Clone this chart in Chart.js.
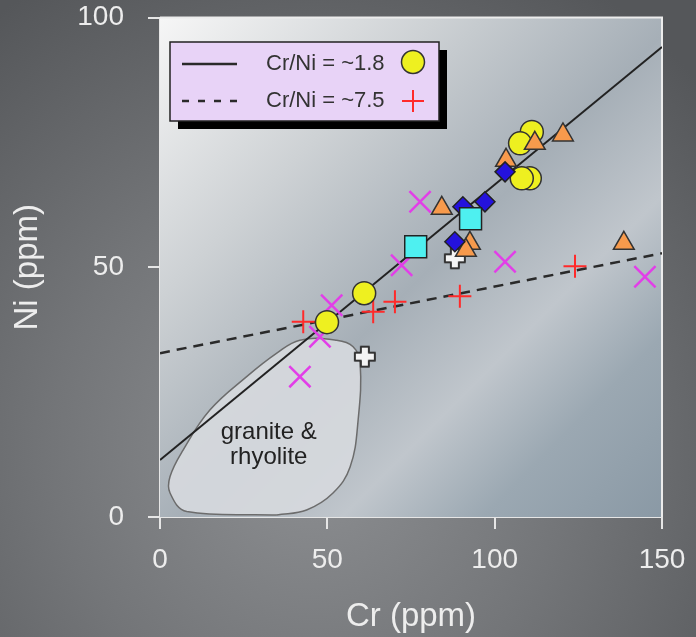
<!DOCTYPE html>
<html>
<head>
<meta charset="utf-8">
<script src="https://cdn.jsdelivr.net/npm/chart.js@4.4.1/dist/chart.umd.min.js"></script>
<style>
  html, body { margin: 0; padding: 0; }
  body {
    width: 696px; height: 637px; overflow: hidden;
    background: radial-gradient(ellipse 75% 85% at 45% 70%, #8e9093 0%, #737578 50%, #55575a 100%);
  }
</style>
</head>
<body>
<canvas id="chart" width="696" height="637"></canvas>
<script>
// Cr / Ni values (ppm)
const circleCr = [49.9, 61.0, 111.1, 107.6, 110.5, 108.1];
const circleNi = [39.0, 44.8, 77.1, 74.8, 67.8, 67.8];

const plusCr = [42.8, 63.7, 70.2, 89.6, 124.0];
const plusNi = [39.1, 41.1, 43.1, 44.2, 50.2];

const xCr = [41.8, 47.8, 51.3, 72.2, 77.7, 103.1, 144.9];
const xNi = [28.1, 36.1, 42.4, 50.4, 63.1, 51.1, 48.1];

const triCr = [84.2, 120.4, 112.0, 103.4, 92.6, 91.4, 138.6];
const triNi = [61.8, 76.5, 74.8, 71.4, 54.8, 53.4, 54.8];

const diaCr = [103.1, 97.1, 90.5, 88.1];
const diaNi = [69.1, 63.1, 62.1, 55.1];

const sqCr = [76.4, 92.8];
const sqNi = [54.1, 59.7];

const crossCr = [88.1, 61.2];
const crossNi = [51.8, 32.1];

// trend lines, Cr/Ni ~1.8 and ~7.5
const lineCr = [0, 150];
const solidNi = [11.4, 94.1];
const dashedNi = [32.8, 52.8];

// granite & rhyolite field outline
const fieldCr = [34.9, 43.8, 51.7, 56.8, 59.2, 59.8, 57.7, 52.8, 41.8, 34.9, 25.9, 14.9, 6.9, 3.0, 3.0, 8.0, 34.9];
const fieldNi = [0.4, 1.4, 4.8, 10.0, 19.4, 30.8, 34.1, 35.4, 35.4, 32.8, 28.1, 21.4, 13.4, 8.1, 4.8, 1.1, 0.4];

const xTicks = [0, 50, 100, 150];
const yTicks = [0, 50, 100];
const legendLabels = ['Cr/Ni = ~1.8', 'Cr/Ni = ~7.5'];

const FONT = '"Liberation Sans", Arial, sans-serif';

function pts(xs, ys) {
    return xs.map((x, i) => ({ x: x, y: ys[i] }));
}

function makeCross() {
    const c = document.createElement('canvas');
    c.width = 26; c.height = 26;
    const g = c.getContext('2d');
    const m = 13, a = 4, e = 10;
    g.beginPath();
    g.moveTo(m - a, m - e); g.lineTo(m + a, m - e); g.lineTo(m + a, m - a);
    g.lineTo(m + e, m - a); g.lineTo(m + e, m + a); g.lineTo(m + a, m + a);
    g.lineTo(m + a, m + e); g.lineTo(m - a, m + e); g.lineTo(m - a, m + a);
    g.lineTo(m - e, m + a); g.lineTo(m - e, m - a); g.lineTo(m - a, m - a);
    g.closePath();
    g.lineJoin = 'round';
    g.fillStyle = '#f4f4f4';
    g.fill();
    g.lineWidth = 2;
    g.strokeStyle = '#333';
    g.stroke();
    return c;
}

const plotBackground = {
    id: 'plotBackground',
    beforeDatasetsDraw(chart) {
        const { ctx, chartArea: a } = chart;
        ctx.save();
        const g = ctx.createLinearGradient(a.left, a.top, a.right, a.bottom);
        g.addColorStop(0, '#f6f6f6');
        g.addColorStop(0.28, '#cdd1d4');
        g.addColorStop(0.52, '#a6afb7');
        g.addColorStop(0.68, '#c0c6cc');
        g.addColorStop(0.82, '#9ba8b2');
        g.addColorStop(1, '#8a99a5');
        ctx.fillStyle = g;
        ctx.fillRect(a.left, a.top, a.right - a.left, a.bottom - a.top);
        ctx.strokeStyle = '#ececec';
        ctx.lineWidth = 2;
        ctx.beginPath();
        ctx.moveTo(a.left, a.top);
        ctx.lineTo(a.right, a.top);
        ctx.lineTo(a.right, a.bottom);
        ctx.stroke();
        ctx.restore();
    }
};

const annotations = {
    id: 'annotations',
    afterDatasetsDraw(chart) {
        const { ctx, scales } = chart;
        ctx.save();
        // field label
        ctx.fillStyle = '#222';
        ctx.font = '24px ' + FONT;
        ctx.textAlign = 'center';
        ctx.textBaseline = 'middle';
        ctx.fillText('granite &', scales.x.getPixelForValue(32.5), scales.y.getPixelForValue(17));
        ctx.fillText('rhyolite', scales.x.getPixelForValue(32.5), scales.y.getPixelForValue(12));

        // legend box
        const bx = 170, by = 42, bw = 269, bh = 79;
        ctx.fillStyle = '#000';
        ctx.fillRect(bx + 8, by + 8, bw, bh);
        ctx.fillStyle = '#e8d3f7';
        ctx.fillRect(bx, by, bw, bh);
        ctx.strokeStyle = '#222';
        ctx.lineWidth = 1.5;
        ctx.strokeRect(bx, by, bw, bh);

        const rows = [64, 101];
        ctx.strokeStyle = '#2a2a2a';
        ctx.lineWidth = 2.5;
        ctx.beginPath();
        ctx.moveTo(182, rows[0]); ctx.lineTo(237, rows[0]);
        ctx.stroke();
        ctx.setLineDash([7, 9]);
        ctx.beginPath();
        ctx.moveTo(182, rows[1]); ctx.lineTo(240, rows[1]);
        ctx.stroke();
        ctx.setLineDash([]);

        ctx.fillStyle = '#333';
        ctx.font = '22px ' + FONT;
        ctx.textAlign = 'left';
        ctx.fillText(legendLabels[0], 266, rows[0]);
        ctx.fillText(legendLabels[1], 266, rows[1]);

        ctx.beginPath();
        ctx.arc(413, rows[0] - 2, 11.5, 0, Math.PI * 2);
        ctx.fillStyle = '#eef020';
        ctx.fill();
        ctx.lineWidth = 1.5;
        ctx.strokeStyle = '#333';
        ctx.stroke();

        ctx.strokeStyle = '#ff2a2a';
        ctx.lineWidth = 2;
        ctx.beginPath();
        ctx.moveTo(402, rows[1]); ctx.lineTo(424, rows[1]);
        ctx.moveTo(413, rows[1] - 11); ctx.lineTo(413, rows[1] + 11);
        ctx.stroke();
        ctx.restore();
    }
};

const axisColor = '#e6e6e6';

new Chart(document.getElementById('chart'), {
    type: 'scatter',
    data: {
        datasets: [
            {
                data: pts(fieldCr, fieldNi),
                showLine: true,
                fill: 'shape',
                tension: 0.4,
                backgroundColor: 'rgba(214, 217, 221, 0.92)',
                borderColor: '#6c6c6c',
                borderWidth: 1.5,
                pointRadius: 0,
                order: 20
            },
            {
                data: pts(lineCr, solidNi),
                showLine: true,
                borderColor: '#222',
                borderWidth: 2,
                pointRadius: 0,
                order: 15
            },
            {
                data: pts(lineCr, dashedNi),
                showLine: true,
                borderColor: '#2a2a2a',
                borderWidth: 2.5,
                borderDash: [10, 7],
                pointRadius: 0,
                order: 14
            },
            {
                data: pts(xCr, xNi),
                pointStyle: 'crossRot',
                pointRadius: 15,
                borderColor: '#e23ee8',
                borderWidth: 2.5,
                order: 10
            },
            {
                data: pts(plusCr, plusNi),
                pointStyle: 'cross',
                pointRadius: 11.5,
                borderColor: '#ff2a2a',
                borderWidth: 2,
                order: 9
            },
            {
                data: pts(crossCr, crossNi),
                pointStyle: makeCross(),
                order: 8
            },
            {
                data: pts(circleCr, circleNi),
                pointStyle: 'circle',
                pointRadius: 11.5,
                backgroundColor: '#eef020',
                borderColor: '#333',
                borderWidth: 1.5,
                order: 7
            },
            {
                data: pts(triCr, triNi),
                pointStyle: 'triangle',
                pointRadius: 12,
                backgroundColor: '#f79a4c',
                borderColor: '#333',
                borderWidth: 1.5,
                order: 6
            },
            {
                data: pts(diaCr, diaNi),
                pointStyle: 'rectRot',
                pointRadius: 10,
                backgroundColor: '#2412dc',
                borderColor: '#222',
                borderWidth: 1.5,
                order: 5
            },
            {
                data: pts(sqCr, sqNi),
                pointStyle: 'rect',
                pointRadius: 15.5,
                backgroundColor: '#4ef0f0',
                borderColor: '#222',
                borderWidth: 1.5,
                order: 4
            }
        ]
    },
    options: {
        responsive: false,
        animation: false,
        layout: { padding: { top: 17, right: 34, left: 0, bottom: 0 } },
        plugins: {
            legend: { display: false },
            tooltip: { enabled: false }
        },
        scales: {
            x: {
                type: 'linear',
                min: 0,
                max: 150,
                afterFit(scale) {
                    scale.height = 120;
                    scale.paddingLeft = 0;
                    scale.paddingRight = 0;
                },
                afterBuildTicks(scale) { scale.ticks = xTicks.map(v => ({ value: v })); },
                ticks: {
                    color: '#ededed',
                    font: { family: FONT, size: 28 },
                    padding: 14
                },
                grid: {
                    drawOnChartArea: false,
                    tickLength: 12,
                    color: axisColor,
                    lineWidth: 2
                },
                border: { color: axisColor, width: 2 },
                title: {
                    display: true,
                    text: 'Cr (ppm)',
                    color: '#ededed',
                    font: { family: FONT, size: 33 },
                    padding: { top: 0, bottom: 0 }
                }
            },
            y: {
                type: 'linear',
                min: 0,
                max: 100,
                afterFit(scale) {
                    scale.width = 160;
                    scale.paddingTop = 0;
                    scale.paddingBottom = 0;
                },
                afterBuildTicks(scale) { scale.ticks = yTicks.map(v => ({ value: v })); },
                ticks: {
                    color: '#ededed',
                    font: { family: FONT, size: 28 },
                    padding: 24
                },
                grid: {
                    drawOnChartArea: false,
                    tickLength: 12,
                    color: axisColor,
                    lineWidth: 2
                },
                border: { color: axisColor, width: 2 },
                title: {
                    display: true,
                    text: 'Ni (ppm)',
                    color: '#ededed',
                    font: { family: FONT, size: 33 },
                    padding: { top: 8, bottom: 0 }
                }
            }
        }
    },
    plugins: [plotBackground, annotations]
});
</script>
</body>
</html>
